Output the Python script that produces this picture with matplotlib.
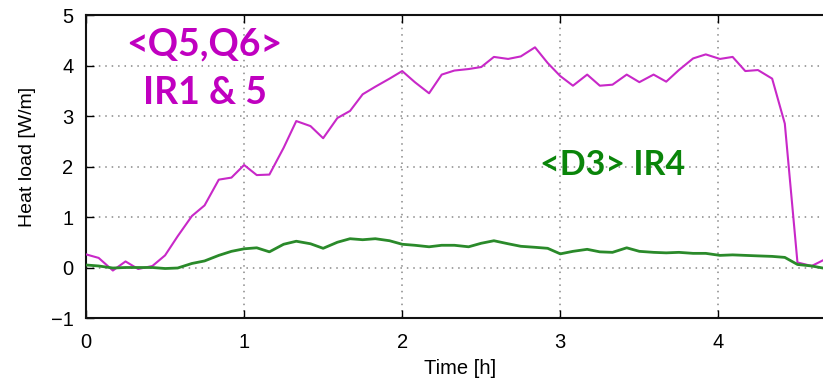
import matplotlib
matplotlib.use("Agg")
import matplotlib.pyplot as plt

# data (time in hours, heat load in W/m)
time_h = [0.00, 0.08, 0.17, 0.25, 0.33, 0.42, 0.50, 0.58, 0.67, 0.75,
          0.84, 0.92, 1.00, 1.08, 1.16, 1.25, 1.33, 1.42, 1.50, 1.59,
          1.67, 1.75, 1.83, 1.92, 2.00, 2.08, 2.17, 2.25, 2.33, 2.42,
          2.50, 2.58, 2.67, 2.75, 2.84, 2.92, 3.00, 3.08, 3.17, 3.25,
          3.33, 3.42, 3.50, 3.59, 3.67, 3.75, 3.84, 3.92, 4.01, 4.09,
          4.17, 4.25, 4.34, 4.42, 4.50, 4.59, 4.66]

q5q6_ir15 = [0.26, 0.19, -0.06, 0.12, -0.03, 0.03, 0.24, 0.62, 1.02, 1.23,
             1.74, 1.78, 2.03, 1.83, 1.84, 2.37, 2.90, 2.80, 2.56, 2.96,
             3.10, 3.43, 3.58, 3.74, 3.89, 3.67, 3.45, 3.82, 3.90, 3.93,
             3.97, 4.17, 4.13, 4.18, 4.36, 4.05, 3.79, 3.60, 3.82, 3.60,
             3.62, 3.82, 3.67, 3.82, 3.68, 3.91, 4.14, 4.22, 4.13, 4.17,
             3.89, 3.91, 3.74, 2.85, 0.10, 0.03, 0.14]

d3_ir4 = [0.05, 0.03, -0.01, 0.00, 0.00, 0.00, -0.02, -0.01, 0.08, 0.13,
          0.24, 0.32, 0.37, 0.39, 0.31, 0.46, 0.52, 0.47, 0.38, 0.50,
          0.57, 0.55, 0.57, 0.53, 0.46, 0.44, 0.41, 0.44, 0.44, 0.41,
          0.48, 0.53, 0.47, 0.42, 0.40, 0.38, 0.27, 0.32, 0.36, 0.31,
          0.30, 0.39, 0.32, 0.30, 0.29, 0.30, 0.28, 0.28, 0.24, 0.25,
          0.24, 0.23, 0.22, 0.20, 0.06, 0.03, -0.01]

x_ticks = [0, 1, 2, 3, 4]
y_ticks = [-1, 0, 1, 2, 3, 4, 5]
y_tick_labels = ['\u22121', '0', '1', '2', '3', '4', '5']

magenta = '#c828c8'
green = '#2a8a2a'

plt.rcParams['font.family'] = ['Liberation Sans', 'DejaVu Sans']

fig = plt.figure(figsize=(8.23, 3.83), dpi=100)
# axes runs past the right edge of the picture, like the cropped original
ax = fig.add_axes([86 / 823, 65 / 383, 790.5 / 823, 303 / 383])

ax.plot(time_h, q5q6_ir15, color=magenta, lw=1.5, zorder=3)
ax.plot(time_h, d3_ir4, color=green, lw=2.0, zorder=3)

ax.set_xlim(0, 5)
ax.set_ylim(-1, 5)
ax.set_xticks(x_ticks)
ax.set_yticks(y_ticks)
ax.set_yticklabels(y_tick_labels)
ax.tick_params(direction='in', length=6, width=1, labelsize=14.5,
               top=True, right=True)
ax.tick_params(axis='x', pad=11)
ax.tick_params(axis='y', pad=9)
ax.grid(True, color='#888888', linestyle=(0, (1, 3.2)), linewidth=1.1)
for s in ax.spines.values():
    s.set_linewidth(1.5)
    s.set_color('#111111')

ax.set_xlabel('Time [h]', fontsize=14.5)
ax.set_ylabel('Heat load [W/m]', fontsize=14)
ax.xaxis.set_label_coords(0.473, -0.135)
ax.yaxis.set_label_coords(-0.063, 0.53)

# annotations
ax.text(0.75, 4.42, '<Q5,Q6>', color='#c000c0', fontsize=27,
        fontweight='bold', family='Lato', ha='center', va='center')
ax.text(0.75, 3.45, 'IR1 & 5', color='#c000c0', fontsize=27,
        fontweight='bold', family='Lato', ha='center', va='center')
ax.text(3.33, 2.02, '<D3> IR4', color='#0a850a', fontsize=24.5,
        fontweight='bold', family='Lato', ha='center', va='center')

fig.savefig('out.png', dpi=100)
